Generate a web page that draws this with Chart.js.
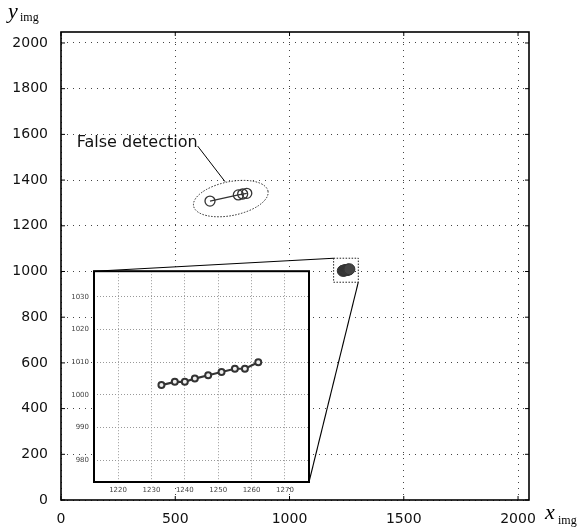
<!DOCTYPE html>
<html><head><meta charset="utf-8">
<script src="https://cdn.jsdelivr.net/npm/chart.js@4.4.1/dist/chart.umd.min.js"></script>
<style>
html,body{margin:0;padding:0;background:#fff;}
#wrap{position:relative;width:582px;height:531px;background:#fff;}
#main{position:absolute;left:0;top:0;}
#inset{position:absolute;left:60px;top:262px;}
</style></head><body>
<div id="wrap"><canvas id="main" width="582" height="531"></canvas><canvas id="inset" width="256" height="236"></canvas></div>
<script>
// ---- data ----
const xTicksMain = [0, 500, 1000, 1500, 2000];
const yTicksMain = [0, 200, 400, 600, 800, 1000, 1200, 1400, 1600, 1800, 2000];
const xTicksInset = [1220, 1230, 1240, 1250, 1260, 1270];
const yTicksInset = [980, 990, 1000, 1010, 1020, 1030];
const trackX = [1233, 1237, 1240, 1243, 1247, 1251, 1255, 1258, 1262];
const trackY = [1003, 1004, 1004, 1005, 1006, 1007, 1008, 1008, 1010];
const falseX = [652, 776, 795, 813];
const falseY = [1308, 1335, 1339, 1342];
const annotationText = 'False detection';
const xTitle = 'x', yTitle = 'y', titleSub = 'img';

// ---- layout / annotation geometry (data coords of main axes) ----
const mainRange = {min: 0, max: 2048};
const insetXRange = {min: 1212.8, max: 1277.2};
const insetYRange = {min: 973.4, max: 1037.8};
const zoomBox = {x0: 1193, x1: 1301, y0: 953, y1: 1058};
const ellipseGeo = {cx: 743, cy: 1319, rx: 166, ry: 74, rot: -0.2};
const labelGeo = {x: 69, y: 1546, lx0: 598, ly0: 1549, lx1: 718, ly1: 1393};
const insetOffset = {left: 60, top: 262};

Chart.defaults.font.family = '"DejaVu Sans", sans-serif';

const pts = (xs, ys) => xs.map((x, i) => ({x, y: ys[i]}));

const insetDecor = {
  id: 'insetDecor',
  beforeDraw(chart) {
    const {ctx, chartArea: a} = chart;
    ctx.save();
    ctx.fillStyle = '#fff';
    ctx.fillRect(a.left, a.top, a.right - a.left, a.bottom - a.top);
    ctx.restore();
  },
  afterDraw(chart) {
    const {ctx, chartArea: a} = chart;
    ctx.save();
    ctx.strokeStyle = '#000';
    ctx.lineWidth = 2;
    ctx.strokeRect(a.left, a.top, a.right - a.left, a.bottom - a.top);
    ctx.restore();
  }
};

const insetChart = new Chart(document.getElementById('inset'), {
  type: 'scatter',
  data: {datasets: [{
    data: pts(trackX, trackY), showLine: true,
    borderColor: '#333', borderWidth: 2.2,
    pointRadius: 3, pointBorderWidth: 2, pointBorderColor: '#333', pointBackgroundColor: '#eee'
  }]},
  options: {
    responsive: false, animation: false, events: [],
    layout: {padding: {left: 0, top: 5, right: 7, bottom: 0}},
    plugins: {legend: {display: false}, tooltip: {enabled: false}},
    scales: {
      x: {type: 'linear', min: insetXRange.min, max: insetXRange.max,
        afterBuildTicks: s => { s.ticks = xTicksInset.map(v => ({value: v})); },
        afterFit: s => { s.height = 16; },
        ticks: {padding: 4, color: '#444', font: {size: 7}, maxRotation: 0, autoSkip: false, callback: v => String(v)},
        grid: {color: '#999', lineWidth: 1, drawTicks: false},
        border: {display: false, dash: [1, 2]}},
      y: {type: 'linear', min: insetYRange.min, max: insetYRange.max,
        afterBuildTicks: s => { s.ticks = yTicksInset.map(v => ({value: v})); },
        afterFit: s => { s.width = 34; },
        ticks: {padding: 5, color: '#444', font: {size: 7}, autoSkip: false, callback: v => String(v)},
        grid: {color: '#999', lineWidth: 1, drawTicks: false},
        border: {display: false, dash: [1, 2]}}
    }
  },
  plugins: [insetDecor]
});

const mainDecor = {
  id: 'mainDecor',
  afterDraw(chart) {
    const {ctx, chartArea: a, scales: {x, y}} = chart;
    const line = (x0, y0, x1, y1) => { ctx.beginPath(); ctx.moveTo(x0, y0); ctx.lineTo(x1, y1); ctx.stroke(); };
    ctx.save();
    // frame
    ctx.strokeStyle = '#000';
    ctx.lineWidth = 1.6;
    ctx.strokeRect(a.left, a.top, a.right - a.left, a.bottom - a.top);
    // inward ticks
    ctx.lineWidth = 1;
    xTicksMain.forEach(v => { const p = x.getPixelForValue(v); line(p, a.bottom, p, a.bottom - 4); line(p, a.top, p, a.top + 4); });
    yTicksMain.forEach(v => { const p = y.getPixelForValue(v); line(a.left, p, a.left + 4, p); line(a.right, p, a.right - 4, p); });
    // zoom box
    const bx0 = x.getPixelForValue(zoomBox.x0), bx1 = x.getPixelForValue(zoomBox.x1);
    const by0 = y.getPixelForValue(zoomBox.y1), by1 = y.getPixelForValue(zoomBox.y0);
    ctx.setLineDash([1.5, 1.5]);
    ctx.strokeStyle = '#222';
    ctx.strokeRect(bx0, by0, bx1 - bx0, by1 - by0);
    // ellipse
    const ecx = x.getPixelForValue(ellipseGeo.cx), ecy = y.getPixelForValue(ellipseGeo.cy);
    const erx = x.getPixelForValue(ellipseGeo.cx + ellipseGeo.rx) - ecx;
    const ery = ecy - y.getPixelForValue(ellipseGeo.cy + ellipseGeo.ry);
    ctx.beginPath();
    ctx.ellipse(ecx, ecy, erx, ery, ellipseGeo.rot, 0, Math.PI * 2);
    ctx.stroke();
    ctx.setLineDash([]);
    // connecting lines to inset
    const ia = insetChart.chartArea;
    ctx.strokeStyle = '#000';
    ctx.lineWidth = 1.1;
    line(ia.left + insetOffset.left, ia.top + insetOffset.top, bx0, by0);
    line(ia.right + insetOffset.left, ia.bottom + insetOffset.top, bx1, by1);
    // leader line + label
    ctx.lineWidth = 1;
    line(x.getPixelForValue(labelGeo.lx0), y.getPixelForValue(labelGeo.ly0), x.getPixelForValue(labelGeo.lx1), y.getPixelForValue(labelGeo.ly1));
    ctx.fillStyle = '#111';
    ctx.font = '16px "DejaVu Sans"';
    ctx.textAlign = 'left';
    ctx.textBaseline = 'alphabetic';
    ctx.fillText(annotationText, x.getPixelForValue(labelGeo.x), y.getPixelForValue(labelGeo.y));
    // axis titles
    ctx.fillStyle = '#000';
    ctx.font = 'italic 22px "Liberation Serif"';
    ctx.fillText(yTitle, 8, 18);
    ctx.fillText(xTitle, a.right + 16, 519);
    ctx.font = '12px "Liberation Serif"';
    ctx.fillText(titleSub, 20, 21);
    ctx.fillText(titleSub, a.right + 29, 524);
    ctx.restore();
  }
};

const mainChart = new Chart(document.getElementById('main'), {
  type: 'scatter',
  data: {datasets: [
    {data: pts(falseX, falseY), showLine: true, borderColor: '#333', borderWidth: 1.3,
     pointRadius: 5, pointBorderWidth: 1.3, pointBorderColor: '#333', pointBackgroundColor: 'rgba(0,0,0,0)'},
    {data: pts(trackX, trackY), showLine: true, borderColor: '#333', borderWidth: 1,
     pointRadius: 5.5, pointBorderWidth: 1, pointBorderColor: '#333', pointBackgroundColor: '#444'}
  ]},
  options: {
    responsive: false, animation: false, events: [],
    layout: {padding: {left: 0, top: 32, right: 53, bottom: 0}},
    plugins: {legend: {display: false}, tooltip: {enabled: false}},
    scales: {
      x: {type: 'linear', min: mainRange.min, max: mainRange.max,
        afterBuildTicks: s => { s.ticks = xTicksMain.map(v => ({value: v})); },
        afterFit: s => { s.height = 31; },
        ticks: {padding: 11, color: '#111', font: {size: 14}, maxRotation: 0, autoSkip: false, callback: v => String(v)},
        grid: {color: '#444', lineWidth: 1, drawTicks: false},
        border: {display: false, dash: [1, 5]}},
      y: {type: 'linear', min: mainRange.min, max: mainRange.max,
        afterBuildTicks: s => { s.ticks = yTicksMain.map(v => ({value: v})); },
        afterFit: s => { s.width = 61; },
        ticks: {padding: 13, color: '#111', font: {size: 14}, autoSkip: false, callback: v => String(v)},
        grid: {color: '#444', lineWidth: 1, drawTicks: false},
        border: {display: false, dash: [1, 5]}}
    }
  },
  plugins: [mainDecor]
});
</script>
</body></html>
